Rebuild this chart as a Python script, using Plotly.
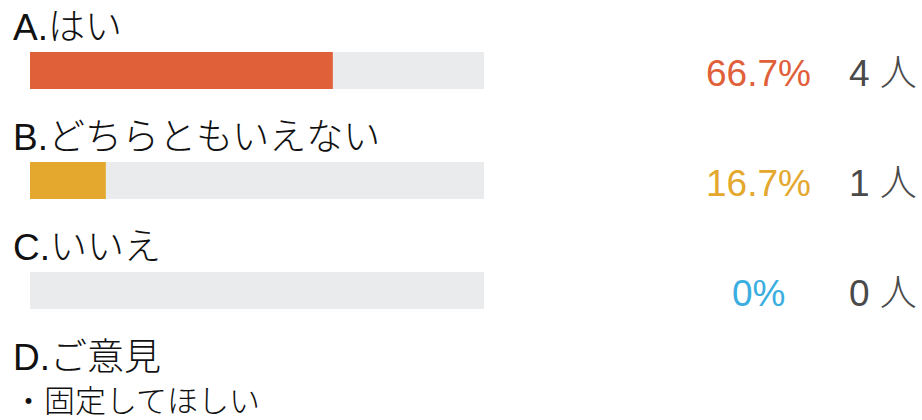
import plotly.graph_objects as go

labels = ["A.はい", "B.どちらともいえない", "C.いいえ"]
percents = [66.7, 16.7, 0.0]
pct_text = ["66.7%", "16.7%", "0%"]
counts = [4, 1, 0]
colors = ["#E0603A", "#E4A82E", "#3AAEE0"]
comment_title = "D.ご意見"
comments = ["・固定してほしい"]

W, H = 922, 420
FONT = "Liberation Sans, Arial, Noto Sans CJK JP, sans-serif"
rows = list(range(len(labels)))

fig = go.Figure()
fig.add_trace(go.Bar(y=rows, x=[100] * len(rows), orientation="h",
                     marker=dict(color="#EAEBED", line=dict(width=0)),
                     width=0.336, hoverinfo="skip"))
fig.add_trace(go.Bar(y=rows, x=percents, orientation="h",
                     marker=dict(color=colors, line=dict(width=0)),
                     width=0.336, hoverinfo="skip"))

ann = []
for i in rows:
    ann.append(dict(x=11 / W, xref="paper", y=i - 0.39, yref="y", text=labels[i],
                    showarrow=False, xanchor="left", yanchor="middle",
                    font=dict(size=37, color="#111111", family=FONT, weight=300)))
    ann.append(dict(x=758 / W, xref="paper", y=i + 0.03, yref="y", text=pct_text[i],
                    showarrow=False, xanchor="center", yanchor="middle",
                    font=dict(size=37, color=colors[i], family=FONT)))
    ann.append(dict(x=883 / W, xref="paper", y=i + 0.03, yref="y", text=f"{counts[i]} 人",
                    showarrow=False, xanchor="center", yanchor="middle",
                    font=dict(size=37, color="#4A4A4A", family=FONT, weight=300)))
n = len(labels)
ann.append(dict(x=11 / W, xref="paper", y=n - 0.39, yref="y", text=comment_title,
                showarrow=False, xanchor="left", yanchor="middle",
                font=dict(size=37, color="#111111", family=FONT, weight=300)))
for j, c in enumerate(comments):
    ann.append(dict(x=11 / W, xref="paper", y=n + 0.01 + j * 0.4, yref="y", text=c,
                    showarrow=False, xanchor="left", yanchor="middle",
                    font=dict(size=31, color="#111111", family=FONT, weight=300)))

fig.update_layout(
    width=W, height=H, margin=dict(l=0, r=0, t=0, b=0),
    paper_bgcolor="white", plot_bgcolor="white",
    barmode="overlay", showlegend=False, annotations=ann,
    xaxis=dict(domain=[30 / W, 484 / W], range=[0, 100], visible=False, fixedrange=True),
    yaxis=dict(range=[(H - 70.5) / 110, -70.5 / 110], visible=False, fixedrange=True),
)
fig.write_html("out.html", config={"displayModeBar": False},
               post_script="document.body.style.margin='0';")
